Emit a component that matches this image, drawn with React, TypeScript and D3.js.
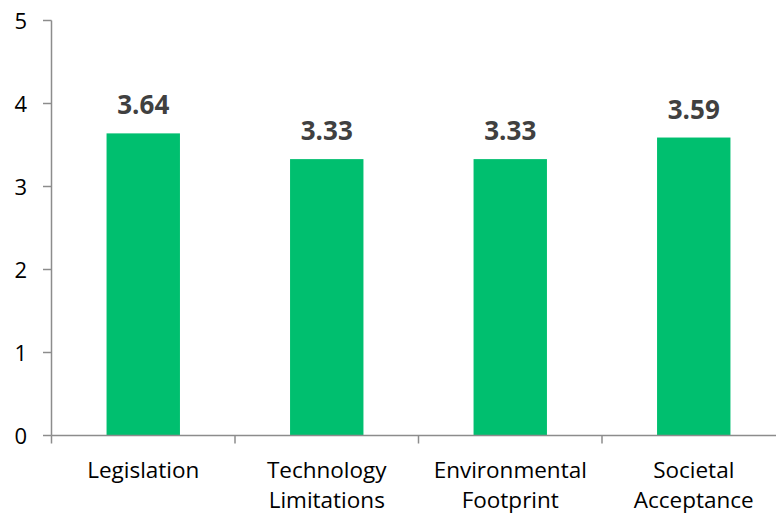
import React from "react";
import * as d3 from "d3";

const categories: string[][] = [
  ["Legislation"],
  ["Technology", "Limitations"],
  ["Environmental", "Footprint"],
  ["Societal", "Acceptance"],
];
const values: number[] = [3.64, 3.33, 3.33, 3.59];
const yTicks: number[] = [0, 1, 2, 3, 4, 5];

const W = 776;
const H = 515;
const FONT = "'Open Sans', 'Noto Sans', sans-serif";

export default function App() {
  const left = 51.5;
  const bandW = 183.5;
  const x = d3
    .scaleBand<number>()
    .domain(d3.range(categories.length))
    .range([left, left + bandW * categories.length])
    .paddingInner(0.6)
    .paddingOuter(0.3);
  const y = d3.scaleLinear().domain([0, 5]).range([435.5, 20.5]);
  const axisColor = "#8c8c8c";
  const xEnd = left + bandW * categories.length;

  return (
    <div style={{ position: "fixed", left: 0, top: 0 }}>
      <svg width={W} height={H} style={{ display: "block", background: "#fff" }}>
        {/* bars */}
        {values.map((v, i) => (
          <rect
            key={i}
            x={x(i)}
            y={y(v)}
            width={x.bandwidth()}
            height={y(0) - y(v)}
            fill="#00BF6F"
          />
        ))}
        {/* value labels */}
        {values.map((v, i) => (
          <text
            key={i}
            x={(x(i) as number) + x.bandwidth() / 2}
            y={y(v) - 19}
            textAnchor="middle"
            fontFamily={FONT}
            fontWeight={700}
            fontSize={26}
            fill="#404040"
          >
            {v.toFixed(2)}
          </text>
        ))}
        {/* y axis */}
        <line x1={left} x2={left} y1={y(5)} y2={y(0)} stroke={axisColor} strokeWidth={1.5} />
        {yTicks.map((t) => (
          <g key={t}>
            <line x1={43} x2={left} y1={y(t)} y2={y(t)} stroke={axisColor} strokeWidth={1.5} />
            <text
              x={27}
              y={y(t) + 8}
              textAnchor="end"
              fontFamily={FONT}
              fontSize={22}
              fill="#000"
            >
              {t}
            </text>
          </g>
        ))}
        {/* x axis */}
        <line x1={left} x2={xEnd} y1={y(0)} y2={y(0)} stroke={axisColor} strokeWidth={1.5} />
        {d3.range(categories.length + 1).map((k) => (
          <line
            key={k}
            x1={left + k * bandW}
            x2={left + k * bandW}
            y1={y(0)}
            y2={443.5}
            stroke={axisColor}
            strokeWidth={1.5}
          />
        ))}
        {/* category labels */}
        {categories.map((lines, i) => (
          <text
            key={i}
            x={(x(i) as number) + x.bandwidth() / 2}
            textAnchor="middle"
            fontFamily={FONT}
            fontSize={22.5}
            fill="#000"
          >
            {lines.map((ln, j) => (
              <tspan key={j} x={(x(i) as number) + x.bandwidth() / 2} y={478 + j * 30}>
                {ln}
              </tspan>
            ))}
          </text>
        ))}
      </svg>
    </div>
  );
}
